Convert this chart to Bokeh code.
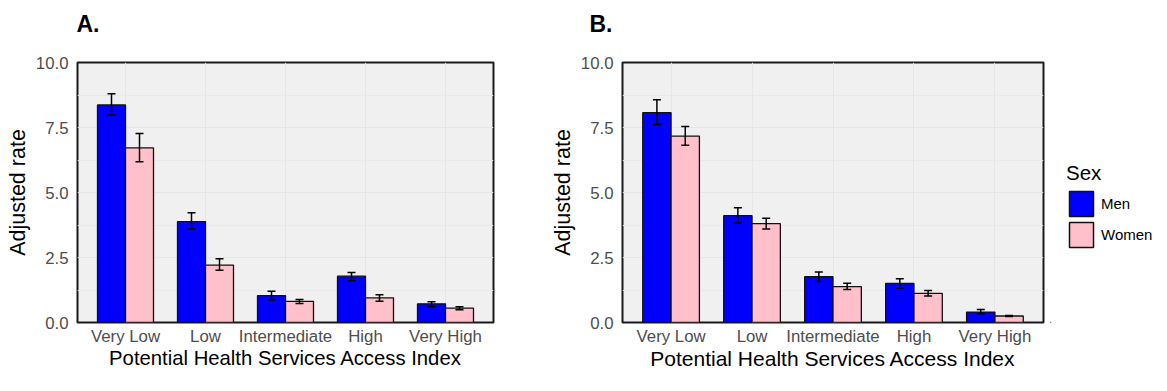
from bokeh.plotting import figure
from bokeh.models import (ColumnDataSource, FactorRange, Range1d, Whisker, TeeHead,
                          Legend, LegendItem, Label, FixedTicker, NumeralTickFormatter)
from bokeh.transform import dodge
from bokeh.layouts import row, column
from bokeh.embed import file_html
from bokeh.resources import INLINE

# ---------------- data ----------------
categories = ["Very Low", "Low", "Intermediate", "High", "Very High"]
sexes = ["Men", "Women"]
y_ticks = [0, 2.5, 5, 7.5, 10]
y_minor = [1.25, 3.75, 6.25, 8.75]
x_title = "Potential Health Services Access Index"
y_title = "Adjusted rate"

a_men = [8.37, 3.88, 1.03, 1.78, 0.72]
a_men_lo = [7.98, 3.60, 0.87, 1.61, 0.62]
a_men_hi = [8.80, 4.22, 1.20, 1.92, 0.80]
a_women = [6.72, 2.21, 0.81, 0.95, 0.55]
a_women_lo = [6.18, 2.01, 0.73, 0.82, 0.49]
a_women_hi = [7.27, 2.45, 0.88, 1.07, 0.61]

b_men = [8.07, 4.11, 1.76, 1.50, 0.40]
b_men_lo = [7.62, 3.83, 1.58, 1.33, 0.34]
b_men_hi = [8.57, 4.41, 1.94, 1.68, 0.50]
b_women = [7.17, 3.80, 1.38, 1.12, 0.25]
b_women_lo = [6.82, 3.60, 1.27, 1.02, 0.23]
b_women_hi = [7.54, 4.01, 1.51, 1.23, 0.27]

FONT = "Liberation Sans"
MEN_COLOR = "#0000FF"
WOMEN_COLOR = "#FFC0CB"
BAR_LINE = "#111111"

TOTAL_W = 1155
HEADER_H = 38
MAIN_H = 334
TOP_BORDER = 24


def make_panel(men, men_lo, men_hi, women, women_lo, women_hi, width, bl, br, title_size):
    src = ColumnDataSource(dict(cat=categories, men=men, men_lo=men_lo, men_hi=men_hi,
                                women=women, women_lo=women_lo, women_hi=women_hi))
    xr = FactorRange(*categories, range_padding=0.1, range_padding_units="absolute")
    p = figure(x_range=xr, y_range=Range1d(0, 10), width=width, height=MAIN_H, title=None,
               output_backend="svg", toolbar_location=None,
               min_border_left=bl, min_border_right=br, min_border_top=TOP_BORDER,
               min_border_bottom=0)
    p.background_fill_color = "#F0F0F0"
    p.border_fill_color = "white"
    p.outline_line_color = "#1A1A1A"
    p.outline_line_width = 2

    p.vbar(x=dodge("cat", -0.175, range=p.x_range), top="men", width=0.35, source=src,
           fill_color=MEN_COLOR, line_color=BAR_LINE, line_width=1.3)
    p.vbar(x=dodge("cat", 0.175, range=p.x_range), top="women", width=0.35, source=src,
           fill_color=WOMEN_COLOR, line_color=BAR_LINE, line_width=1.3)

    for key, off in (("men", -0.175), ("women", 0.175)):
        w = Whisker(source=src, base=dodge("cat", off, range=p.x_range),
                    upper=key + "_hi", lower=key + "_lo", line_color="black", line_width=1.5,
                    upper_head=TeeHead(size=8, line_width=1.5, line_color="black"),
                    lower_head=TeeHead(size=8, line_width=1.5, line_color="black"),
                    level="overlay")
        p.add_layout(w)

    # grid
    p.xgrid.grid_line_color = "#E6E6E6"
    p.ygrid.ticker = FixedTicker(ticks=y_ticks, minor_ticks=y_minor)
    p.ygrid.grid_line_color = "#E6E6E6"
    p.ygrid.minor_grid_line_color = "#E9E9E9"

    # axes
    p.yaxis.ticker = FixedTicker(ticks=y_ticks, minor_ticks=y_minor)
    p.yaxis.formatter = NumeralTickFormatter(format="0.0")
    for ax in (p.xaxis[0], p.yaxis[0]):
        ax.axis_line_color = None
        ax.major_tick_line_color = None
        ax.minor_tick_line_color = None
        ax.major_tick_out = 0
        ax.minor_tick_out = 0
        ax.major_label_text_font = FONT
        ax.major_label_text_font_size = "16.8px"
        ax.major_label_text_color = "#4D4D4D"
        ax.axis_label_text_font = FONT
        ax.axis_label_text_font_style = "normal"
        ax.axis_label_text_color = "black"
    p.xaxis.axis_label = x_title
    p.xaxis.axis_label_text_font_size = title_size
    p.xaxis.major_label_standoff = 4
    p.xaxis.axis_label_standoff = -2
    p.yaxis.axis_label = y_title
    p.yaxis.axis_label_text_font_size = "21.5px"
    p.yaxis.major_label_standoff = 9
    p.yaxis.axis_label_standoff = 3
    return p


pA = make_panel(a_men, a_men_lo, a_men_hi, a_women, a_women_lo, a_women_hi,
                width=540, bl=77, br=47, title_size="20.3px")
pB = make_panel(b_men, b_men_lo, b_men_hi, b_women, b_women_lo, b_women_hi,
                width=510, bl=82, br=7, title_size="21px")

# ---------------- legend panel ----------------
LEG_W = TOTAL_W - 540 - 510
pL = figure(width=LEG_W, height=MAIN_H, output_backend="svg", toolbar_location=None, title=None,
            x_range=Range1d(0, 1), y_range=Range1d(0, 1),
            min_border_left=0, min_border_right=0, min_border_top=TOP_BORDER, min_border_bottom=0)
pL.axis.visible = False
pL.grid.visible = False
pL.outline_line_color = None
pL.background_fill_color = "white"
pL.border_fill_color = "white"
key_src = ColumnDataSource(dict(x=[-5.0], top=[-2.0], bottom=[-3.0]))  # off-range: keys only
k_men = pL.vbar(x="x", top="top", bottom="bottom", width=0.5, source=key_src,
                fill_color=MEN_COLOR, line_color=BAR_LINE, line_width=1.5)
k_women = pL.vbar(x="x", top="top", bottom="bottom", width=0.5, source=key_src,
                  fill_color=WOMEN_COLOR, line_color=BAR_LINE, line_width=1.5)
leg = Legend(items=[LegendItem(label=sexes[0], renderers=[k_men]),
                    LegendItem(label=sexes[1], renderers=[k_women])],
             title="Sex", title_text_font=FONT, title_text_font_size="20.5px",
             title_text_font_style="normal", title_text_color="black", title_standoff=3,
             label_text_font=FONT, label_text_font_size="15px", label_text_color="black",
             glyph_width=30, glyph_height=31, spacing=0, padding=0, margin=0,
             label_standoff=5, border_line_color=None, background_fill_alpha=0,
             location=(16, 72))
pL.add_layout(leg, "center")

# ---------------- header (panel letters) ----------------
header = figure(width=TOTAL_W, height=HEADER_H, output_backend="svg", toolbar_location=None,
                title=None, x_range=Range1d(0, TOTAL_W), y_range=Range1d(0, HEADER_H),
                min_border_left=0, min_border_right=0, min_border_top=0, min_border_bottom=0)
header.axis.visible = False
header.grid.visible = False
header.outline_line_color = None
header.background_fill_color = "white"
header.border_fill_color = "white"
for txt, xs in (("A.", 76), ("B.", 589)):
    header.add_layout(Label(x=xs, y=15, x_units="screen", y_units="screen", text=txt,
                            text_font=FONT, text_font_size="23px", text_font_style="bold",
                            text_color="black", text_align="left", text_baseline="alphabetic"))

layout = column(header, row(pA, pB, pL))
open("out.html", "w").write(file_html(layout, INLINE))
